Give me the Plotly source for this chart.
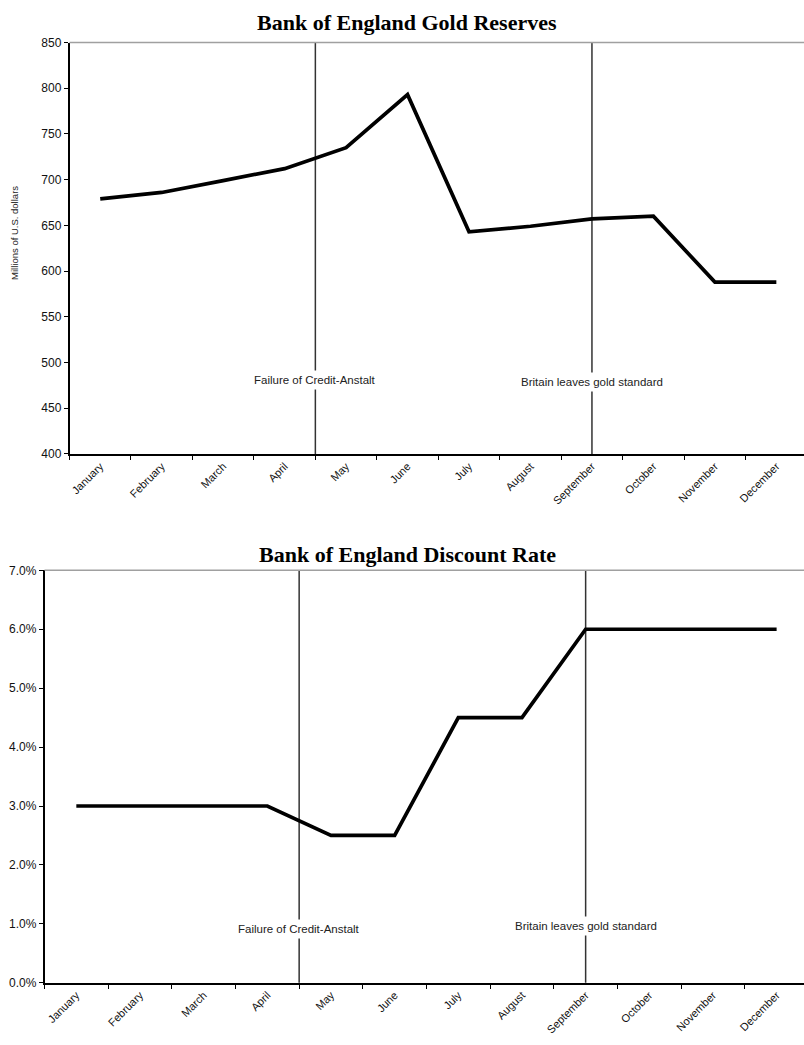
import plotly.graph_objects as go

months = ["January", "February", "March", "April", "May", "June", "July",
          "August", "September", "October", "November", "December"]
gold_reserves = [679, 686, 699, 712, 735, 793, 643, 649, 657, 660, 588, 588]
discount_rate = [3.0, 3.0, 3.0, 3.0, 2.5, 2.5, 4.5, 4.5, 6.0, 6.0, 6.0, 6.0]

event_labels = ["Failure of Credit-Anstalt", "Britain leaves gold standard"]
event_pos = [3.5, 8]

W, H = 804, 1045
FONT = "Liberation Sans, Arial, sans-serif"
TFONT = "Liberation Serif, Times New Roman, serif"

fig = go.Figure()
fig.add_trace(go.Scatter(x=months, y=gold_reserves, mode="lines",
                         line=dict(color="black", width=3.7),
                         xaxis="x", yaxis="y", showlegend=False))
fig.add_trace(go.Scatter(x=months, y=discount_rate, mode="lines",
                         line=dict(color="black", width=3.7),
                         xaxis="x2", yaxis="y2", showlegend=False))

def yd(top_px, bot_px):
    return [1 - bot_px / H, 1 - top_px / H]

line_common = dict(showline=True, linecolor="black", linewidth=1.5,
                   ticks="outside", tickcolor="black", ticklen=4, tickwidth=1.2,
                   showgrid=False, zeroline=False)
yfont = dict(family=FONT, size=12, color="#111")
xfont = dict(family=FONT, size=11, color="#111")

fig.update_layout(
    width=W, height=H,
    margin=dict(l=0, r=0, t=0, b=0),
    plot_bgcolor="white", paper_bgcolor="white",
    xaxis=dict(domain=[69.5 / W, 1], anchor="y", type="category",
               range=[-0.5, 11.45], tickangle=-45, tickson="boundaries",
               tickfont=xfont, **line_common),
    yaxis=dict(domain=yd(36, 453), anchor="x", range=[400, 850], dtick=50,
               tickfont=yfont, **line_common),
    xaxis2=dict(domain=[44.5 / W, 1], anchor="y2", type="category",
                range=[-0.5, 11.43], tickangle=-45, tickson="boundaries",
                tickfont=xfont, **line_common),
    yaxis2=dict(domain=yd(571, 989), anchor="x2", range=[0, 7], dtick=1,
                tickformat=".1f", ticksuffix="%", tickfont=yfont, **line_common),
)

shapes = []
annotations = []
# top borders
for xr, yr in [("x domain", "y domain"), ("x2 domain", "y2 domain")]:
    shapes.append(dict(type="line", xref=xr, yref=yr, x0=0, x1=1, y0=1, y1=1,
                       line=dict(color="#a0a0a0", width=1.5), layer="above"))

# event lines and labels
label_y_top = [(388 - 36) / (453 - 36), (390 - 36) / (453 - 36)]
label_y_bot = [(945 - 571) / (989 - 571), (942 - 571) / (989 - 571)]
for i, (lab, pos) in enumerate(zip(event_labels, event_pos)):
    for xr, yr, ly in [("x", "y domain", label_y_top[i]), ("x2", "y2 domain", label_y_bot[i])]:
        shapes.append(dict(type="line", xref=xr, yref=yr, x0=pos, x1=pos, y0=0, y1=1,
                           line=dict(color="#333", width=1.5), layer="below"))
        annotations.append(dict(xref=xr, yref=yr, x=pos, y=1 - ly, text=lab,
                                showarrow=False, bgcolor="white",
                                font=dict(family=FONT, size=11.5, color="#222"),
                                borderpad=3))

# titles
annotations.append(dict(xref="paper", yref="paper", x=407 / W, y=1 - 16 / H,
                        text="<b>Bank of England Gold Reserves</b>", showarrow=False,
                        font=dict(family=TFONT, size=22, color="black"),
                        xanchor="center", yanchor="middle"))
annotations.append(dict(xref="paper", yref="paper", x=407 / W, y=1 - 555 / H,
                        text="<b>Bank of England Discount Rate</b>", showarrow=False,
                        font=dict(family=TFONT, size=22, color="black"),
                        xanchor="center", yanchor="middle"))
# y-axis title
annotations.append(dict(xref="paper", yref="paper", x=15 / W, y=1 - 229 / H,
                        text="Millions of U.S. dollars", showarrow=False, textangle=-90,
                        font=dict(family=FONT, size=9.5, color="#222"),
                        xanchor="center", yanchor="middle"))

fig.update_layout(shapes=shapes, annotations=annotations)
fig.write_html("out.html")
